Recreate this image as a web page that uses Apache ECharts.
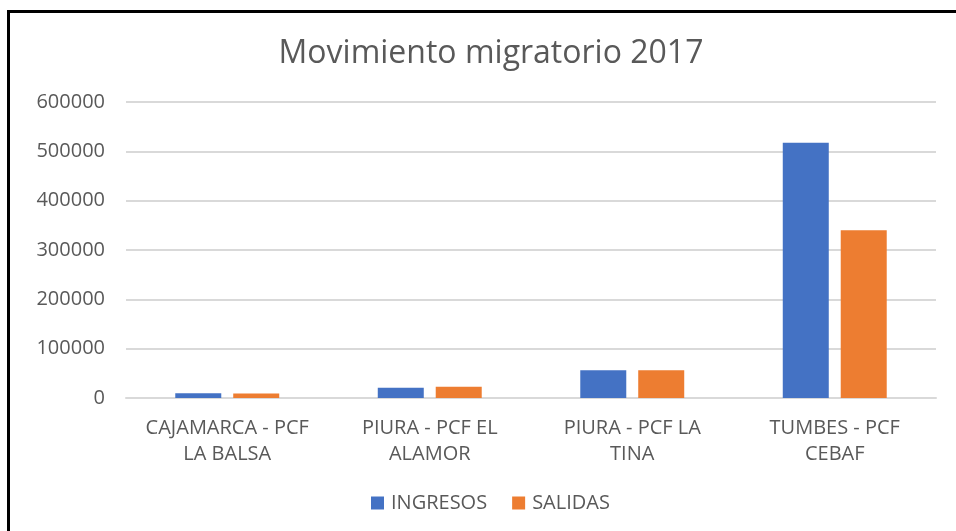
<!DOCTYPE html>
<html>
<head>
<meta charset="utf-8">
<script src="https://cdn.jsdelivr.net/npm/echarts@6/dist/echarts.min.js"></script>
<style>
html,body{margin:0;padding:0;background:#fff;}
#c{width:956px;height:531px;}
</style>
</head>
<body>
<div id="c"></div>
<script>
const categories = ["CAJAMARCA - PCF\nLA BALSA", "PIURA - PCF EL\nALAMOR", "PIURA - PCF LA\nTINA", "TUMBES - PCF\nCEBAF"];
const ingresos = [9500, 21000, 56000, 517500];
const salidas = [9000, 23000, 56000, 340000];
const yTicks = [0, 100000, 200000, 300000, 400000, 500000, 600000];

const chart = echarts.init(document.getElementById('c'));
const font = 'Open Sans';
chart.setOption({
  animation: false,
  backgroundColor: '#fff',
  title: {
    text: 'Movimiento migratorio 2017',
    left: 486, top: 33, textAlign: 'center',
    textStyle: {fontFamily: font, fontSize: 32, fontWeight: 'normal', color: '#595959'}
  },
  graphic: [{
    type: 'polyline',
    shape: {points: [[8.5, 531], [8.5, 11.5], [956, 11.5]]},
    style: {stroke: '#000', lineWidth: 3, fill: null}
  }],
  legend: {
    data: ['INGRESOS', 'SALIDAS'],
    left: 366, top: 488,
    itemWidth: 13, itemHeight: 13, itemGap: 25,
    icon: 'rect',
    textStyle: {fontFamily: font, fontSize: 20, color: '#595959', padding: [0, 0, 0, 2]}
  },
  grid: {left: 126, right: 20, top: 102, bottom: 133},
  xAxis: {
    type: 'category', data: categories,
    axisTick: {show: false},
    axisLine: {lineStyle: {color: '#D9D9D9', width: 2}},
    axisLabel: {fontFamily: font, fontSize: 20, color: '#595959', lineHeight: 26, margin: 17, interval: 0}
  },
  yAxis: {
    type: 'value', min: yTicks[0], max: yTicks[yTicks.length - 1], interval: 100000,
    axisLine: {show: false}, axisTick: {show: false},
    splitLine: {lineStyle: {color: '#D9D9D9', width: 2}},
    axisLabel: {fontFamily: font, fontSize: 20, color: '#595959', margin: 21, formatter: v => String(v)}
  },
  series: [
    {name: 'INGRESOS', type: 'bar', data: ingresos, barWidth: 46, barGap: '26%', itemStyle: {color: '#4472C4'}},
    {name: 'SALIDAS', type: 'bar', data: salidas, barWidth: 46, barGap: '26%', itemStyle: {color: '#ED7D31'}}
  ]
});
</script>
</body>
</html>
